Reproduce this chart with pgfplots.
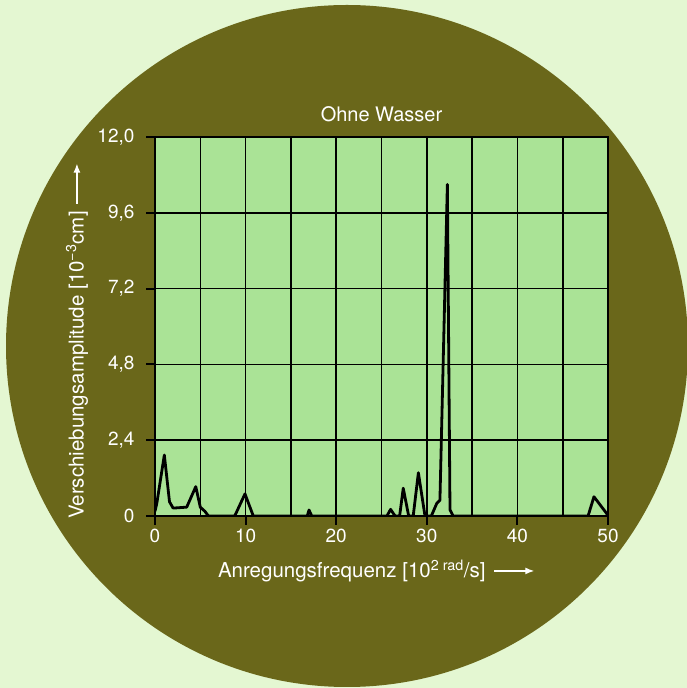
\documentclass[border=0pt]{standalone}
\usepackage{fontspec}
\setmainfont{TeX Gyre Heros}
\usepackage{pgfplots}
\pgfplotsset{compat=1.18}
\usetikzlibrary{arrows.meta}
\definecolor{bgc}{RGB}{228,247,210}
\definecolor{olivec}{RGB}{106,103,26}
\definecolor{plotg}{RGB}{170,227,150}
\newcommand{\rarr}{\tikz[baseline={(0,-0.33em)}]\draw[white,line width=1.4pt,-{Latex[length=9pt,width=7pt]}](0,0)--(40pt,0);}
\begin{document}
\begin{tikzpicture}[x=1pt,y=1pt]
\useasboundingbox (0,0) rectangle (687,688);
\clip (0,0) rectangle (687,688);
\fill[bgc] (0,0) rectangle (687,688);
\fill[olivec] (347,342) circle (341);
\begin{axis}[
  at={(155pt,172pt)}, anchor=south west,
  scale only axis, width=453pt, height=379pt,
  xmin=0, xmax=50, ymin=0, ymax=12,
  axis background/.style={fill=plotg},
  xtick={0,10,...,50},
  xticklabels={0,10,20,30,40,50},
  extra x ticks={5,15,25,35,45},
  extra x tick labels={},
  extra x tick style={major tick length=0pt, xmajorgrids},
  ytick={0,2.4,4.8,7.2,9.6,12},
  yticklabels={0,{2,4},{4,8},{7,2},{9,6},{12,0}},
  xmajorgrids, ymajorgrids,
  grid style={black, line width=1.6pt},
  axis line style={black, line width=2pt},
  tick pos=left,
  tick align=outside,
  major tick length=9pt,
  tick style={black, line width=2pt},
  ticklabel style={white, font=\fontsize{19}{22}\selectfont},
  yticklabel style={xshift=-8pt},
  title={Ohne Wasser},
  title style={at={(axis description cs:0.5,1.045)}, anchor=center, white, font=\fontsize{20}{24}\selectfont},
  xlabel={Anregungsfrequenz [10\textsuperscript{2 rad}/s]\hspace{8pt}\rarr},
  xlabel style={at={(axis description cs:0.489,-0.145)}, anchor=center, white, font=\fontsize{20.5}{24}\selectfont},
  ylabel={Verschiebungsamplitude [10\textsuperscript{−3}cm]\hspace{7pt}\rarr},
  ylabel style={at={(axis description cs:-0.172,0.462)}, anchor=center, white, font=\fontsize{20.5}{24}\selectfont},
]
\addplot[black, line width=2.8pt, line join=round] coordinates {
(0,0.15) (0.2,0.4) (1.03,1.93) (1.6,0.45) (2.0,0.25) (3.5,0.28) (4.5,0.93) (5.0,0.28) (5.5,0.15) (5.9,0)
(8.8,0) (9.93,0.7) (10.85,0) (16.8,0) (17.0,0.19) (17.3,0) (25.6,0) (26.0,0.21) (26.5,0) (27.0,0)
(27.4,0.88) (28.0,0) (28.5,0) (29.07,1.37) (29.8,0) (30.5,0) (31.1,0.4) (31.45,0.5) (32.27,10.5)
(32.56,0.2) (32.9,0) (47.8,0) (48.45,0.61) (49.85,0.08) (50,0)
};
\end{axis}
\end{tikzpicture}
\end{document}
